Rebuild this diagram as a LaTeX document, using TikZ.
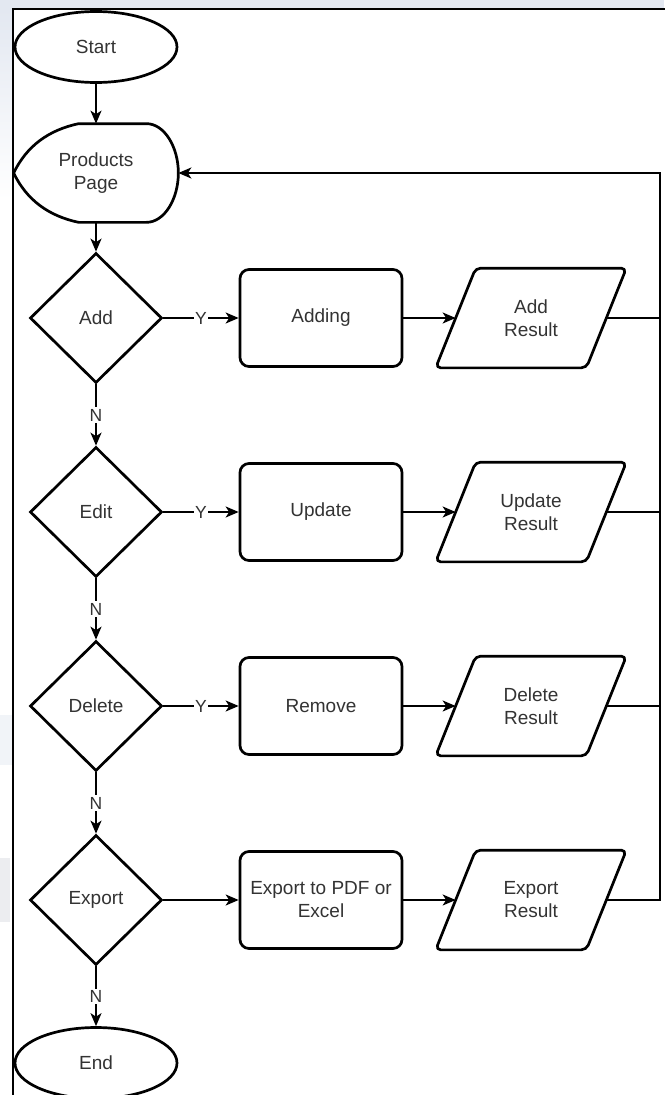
\documentclass[tikz,border=0pt]{standalone}
\usepackage{fontspec}
\setmainfont{Liberation Sans}
\usetikzlibrary{shapes.geometric,arrows.meta,calc}

\definecolor{txt}{HTML}{333333}
\definecolor{wm}{HTML}{E3E8F1}
\definecolor{wmgrey}{HTML}{ECEDF0}

\begin{document}
\begin{tikzpicture}[x=1pt,y=-1pt,
  base/.style={draw, line width=2.7pt, text=txt, align=center,
    font=\fontsize{19}{23}\selectfont},
  term/.style={base, ellipse, minimum width=162, minimum height=71, inner sep=0},
  dec/.style={base, diamond, minimum width=132, minimum height=130, inner sep=0},
  proc/.style={base, rectangle, rounded corners=9, minimum width=162, minimum height=97},
  ghost/.style={base, draw=none, minimum height=97, inner sep=0},
  outline/.style={line width=2.7pt, line join=round},
  flow/.style={line width=1.7pt, -{Stealth[length=13,width=11,inset=3.5]}},
  plain/.style={line width=1.7pt},
  lbl/.style={fill=white, inner sep=1.5, text=txt, font=\fontsize{17.5}{19}\selectfont}]

\useasboundingbox (0,0) rectangle (664,1095);
\fill[white] (0,0) rectangle (664,1095);

% pale background bands and frame
\fill[wm] (0,0) rectangle (664,9);
\shade[top color=wm, bottom color=white] (0,9) rectangle (12,200);
\fill[wm!50] (0,715) rectangle (12,765);
\fill[wmgrey] (0,858) rectangle (10,922);
\draw[line width=2pt] (12.5,1100) -- (12.5,9) -- (670,9);

% main column
\node[term] (start) at (96,47) {Start};
\node[ghost, minimum width=162, minimum height=96] (prod) at (96,173) {Products\\Page};
\draw[outline] (prod.west)
  .. controls ($(prod.west)+(13,-27)$) and ($(prod.west)+(35,-43)$)
  .. ($(prod.north west)+(65,0)$)
  -- ($(prod.north east)+(-32,0)$)
  .. controls ($(prod.north east)+(-14,0)$) and ($(prod.east)+(0,-26)$) .. (prod.east)
  .. controls ($(prod.east)+(0,26)$) and ($(prod.south east)+(-14,0)$)
  .. ($(prod.south east)+(-32,0)$)
  -- ($(prod.south west)+(65,0)$)
  .. controls ($(prod.west)+(35,43)$) and ($(prod.west)+(13,27)$) .. (prod.west) -- cycle;

\node[dec] (d1) at (96,318) {Add};
\node[dec] (d2) at (96,512) {Edit};
\node[dec] (d3) at (96,706) {Delete};
\node[dec] (d4) at (96,900) {Export};
\node[term] (end) at (96,1063) {End};

% actions
\node[proc] (p1) at (321,318) {Adding};
\node[proc] (p2) at (321,512) {Update};
\node[proc] (p3) at (321,706) {Remove};
\node[proc] (p4) at (321,900) {Export to PDF or\\Excel};

% results (parallelograms around text holders)
\foreach \n/\y/\t in {r1/318/Add, r2/512/Update, r3/706/Delete, r4/900/Export}{
  \node[ghost, minimum width=148] (\n) at (531,\y) {\t\\Result};
  \draw[outline, rounded corners=5pt]
    ($(\n.north west)+(20,0)$) -- ($(\n.north east)+(20,0)$)
    -- ($(\n.south east)+(-20,0)$) -- ($(\n.south west)+(-20,0)$) -- cycle;
}

% vertical flow
\draw[flow] (start) -- (prod);
\draw[flow] (prod) -- (d1);
\draw[flow] (d1) -- node[lbl]{N} (d2);
\draw[flow] (d2) -- node[lbl]{N} (d3);
\draw[flow] (d3) -- node[lbl]{N} (d4);
\draw[flow] (d4) -- node[lbl]{N} (end);

% branches
\draw[flow] (d1) -- node[lbl]{Y} (p1);
\draw[flow] (d2) -- node[lbl]{Y} (p2);
\draw[flow] (d3) -- node[lbl]{Y} (p3);
\draw[flow] (d4) -- (p4);
\draw[flow] (p1) -- (r1.west);
\draw[flow] (p2) -- (r2.west);
\draw[flow] (p3) -- (r3.west);
\draw[flow] (p4) -- (r4.west);

% return path to the products page
\coordinate (fb) at (660,173);
\draw[plain] (r1.east) -- (r1.east -| fb);
\draw[plain] (r2.east) -- (r2.east -| fb);
\draw[plain] (r3.east) -- (r3.east -| fb);
\draw[flow, line join=miter] (r4.east) -- (r4.east -| fb) -- (fb) -- (prod.east);
\end{tikzpicture}
\end{document}
